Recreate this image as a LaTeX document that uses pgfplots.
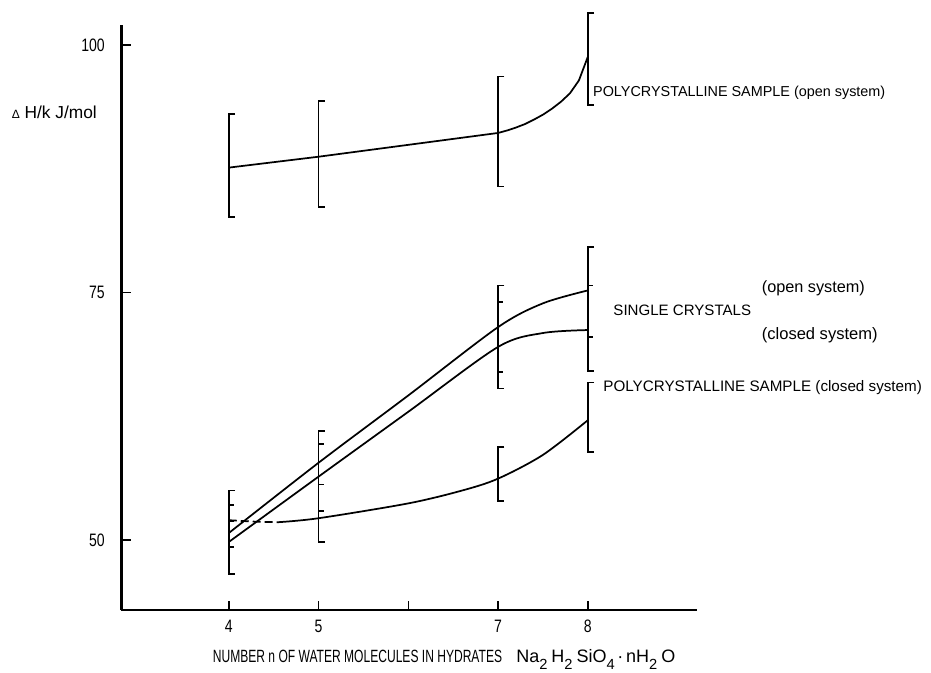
\documentclass[border=0pt]{standalone}
\usepackage{fontspec}
\setmainfont{Liberation Sans}
\newfontfamily\condfont{Liberation Sans}[FakeStretch=0.78]
\newfontfamily\xcondfont{Liberation Sans}[FakeStretch=0.68]
\usepackage{pgfplots}
\pgfplotsset{compat=1.18}
\newcommand\sub[1]{\raisebox{-5pt}{\fontsize{11pt}{12pt}\selectfont#1}}
\newcommand\fs[1]{\fontsize{#1}{1.2\dimexpr#1\relax}\selectfont}
\begin{document}
\begin{tikzpicture}
\path[use as bounding box] (-91.1pt,-46.5pt) rectangle (607.1pt,457.5pt);
\begin{axis}[
  scale only axis, width=431.25pt, height=438.75pt,
  xmin=2.805, xmax=9.21, ymin=42.93, ymax=102.0,
  axis x line=bottom, axis y line=left,
  axis line style={-, line width=1.8pt},
  tick align=inside, major tick length=7pt,
  tick style={line width=1.2pt, black},
  xtick={4,5,6,7,8}, xticklabels={4,5,,7,8},
  ytick={50,75,100},
  /pgf/number format/assume math mode=true,
  ticklabel style={font=\condfont\fontsize{13.5pt}{16pt}\selectfont},
  xticklabel style={yshift=-4pt},
  yticklabel style={xshift=-9pt},
  clip=false,
  unbounded coords=jump,
]
% curves
\addplot[black, line width=1.3pt] coordinates {
 (4,87.6) (5,88.7) (7,91.1) (7.1,91.35) (7.2,91.65) (7.3,92.0) (7.4,92.45) (7.5,92.95)
 (7.6,93.55) (7.7,94.25) (7.8,95.1) (7.9,96.4) (8,98.8)};
\addplot[black, line width=1.3pt, smooth, tension=0.5] coordinates {
 (4,50.7) (5,57.8) (6,64.6) (7,71.5) (7.5,73.9) (8,75.2)};
\addplot[black, line width=1.3pt, smooth, tension=0.5] coordinates {
 (4,49.8) (5,56.4) (6,62.95) (7,69.5) (7.5,70.9) (8,71.2)};
\addplot[black, line width=1.3pt, dash pattern=on 6pt off 3pt] coordinates {
 (4,52.0) (4.3,51.85) (4.55,51.8)};
\addplot[black, line width=1.3pt, smooth, tension=0.5] coordinates {
 (4.55,51.8) (5,52.2) (6,53.7) (6.6,55.0) (7,56.2) (7.5,58.6) (8,62.1)};
% error brackets
\addplot[black, line width=1.4pt] coordinates {
 (4.07,93.0) (4,93.0) (4,82.65) (4.07,82.65) (nan,nan)
 (5.07,94.3) (5,94.3) (5,83.6) (5.07,83.6) (nan,nan)
 (7.07,96.8) (7,96.8) (7,85.7) (7.07,85.7) (nan,nan)
 (8.07,103.2) (8,103.2) (8,93.9) (8.07,93.9) (nan,nan)
 (4.07,55.0) (4,55.0) (4,46.6) (4.07,46.6) (nan,nan)
 (4,53.5) (4.06,53.5) (nan,nan)
 (4,51.95) (4.06,51.95) (nan,nan)
 (4,49.3) (4.06,49.3) (nan,nan)
 (5.07,61.0) (5,61.0) (5,49.8) (5.07,49.8) (nan,nan)
 (5,59.7) (5.06,59.7) (nan,nan)
 (5,55.6) (5.06,55.6) (nan,nan)
 (5,52.9) (5.06,52.9) (nan,nan)
 (7.07,75.7) (7,75.7) (7,65.3) (7.07,65.3) (nan,nan)
 (7,74.0) (7.06,74.0) (nan,nan)
 (7,67.0) (7.06,67.0) (nan,nan)
 (8.07,79.6) (8,79.6) (8,67.1) (8.07,67.1) (nan,nan)
 (8,75.7) (8.06,75.7) (nan,nan)
 (8,70.5) (8.06,70.5) (nan,nan)
 (7.07,59.4) (7,59.4) (7,53.9) (7.07,53.9) (nan,nan)
 (8.07,65.9) (8,65.9) (8,58.9) (8.07,58.9)};
% labels
\node[anchor=west, inner sep=0pt, font=\fs{13pt}] at (axis cs:1.58,93.2) {{\small Δ} H/k J/mol};
\node[anchor=west, inner sep=0pt, font=\fs{10.8pt}] at (axis cs:8.056,95.15) {POLYCRYSTALLINE SAMPLE (open system)};
\node[anchor=west, inner sep=0pt, font=\fs{12.2pt}] at (axis cs:9.935,75.4) {(open system)};
\node[anchor=west, inner sep=0pt, font=\fs{11.3pt}] at (axis cs:8.282,73.2) {SINGLE CRYSTALS};
\node[anchor=west, inner sep=0pt, font=\fs{12.4pt}] at (axis cs:9.935,70.7) {(closed system)};
\node[anchor=west, inner sep=0pt, font=\fs{11.4pt}] at (axis cs:8.17,65.35) {POLYCRYSTALLINE SAMPLE (closed system)};
\node[anchor=base west, inner sep=0pt, font=\xcondfont\fontsize{13.3pt}{15pt}\selectfont] at (axis cs:3.82,37.6)
 {NUMBER n OF WATER MOLECULES IN HYDRATES};
\node[anchor=base west, inner sep=0pt, font=\fontsize{13.5pt}{15pt}\selectfont] at (axis cs:7.20,37.6)
 {Na\sub{2}\hspace{3pt}H\sub{2}\hspace{3pt}SiO\sub{4}\hspace{2pt}·\hspace{2pt}nH\sub{2}\hspace{3pt}O};
\end{axis}
\end{tikzpicture}
\end{document}
